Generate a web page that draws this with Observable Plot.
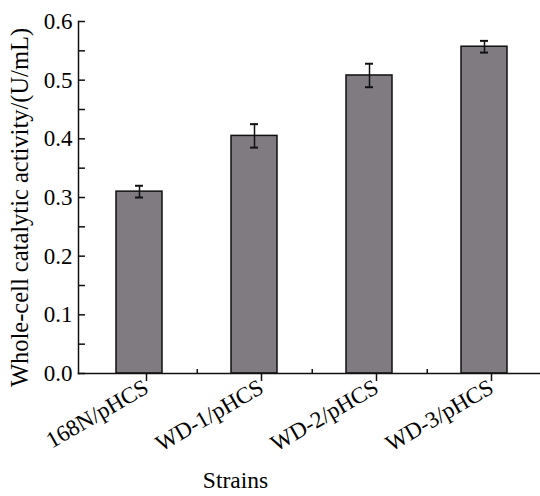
<!DOCTYPE html>
<html><head><meta charset="utf-8">
<script src="https://cdn.jsdelivr.net/npm/d3@7"></script>
<script src="https://cdn.jsdelivr.net/npm/@observablehq/plot@0.6"></script>
<style>body{margin:0;background:#fff} svg{font-family:"Liberation Serif","Times New Roman",serif}</style>
</head><body><div id="chart"></div>
<script>
const strains = ["168N/pHCS", "WD-1/pHCS", "WD-2/pHCS", "WD-3/pHCS"];
const activity = [0.31, 0.405, 0.508, 0.557];
const errors = [0.01, 0.02, 0.02, 0.01];
const yTicks = [0, 0.1, 0.2, 0.3, 0.4, 0.5, 0.6];
const yMinorTicks = [0.05, 0.15, 0.25, 0.35, 0.45, 0.55];
const yTitle = "Whole-cell catalytic activity/(U/mL)";
const xTitle = "Strains";

const data = strains.map((s, i) => ({strain: s, value: activity[i], lo: activity[i] - errors[i], hi: activity[i] + errors[i]}));
const font = '"Liberation Serif","Times New Roman",serif';

const chart = Plot.plot({
  width: 540, height: 496,
  marginLeft: 78, marginRight: 0, marginTop: 21, marginBottom: 123,
  style: {fontFamily: font, background: "#fff", color: "#000"},
  x: {domain: strains, range: [77, 545.6], paddingInner: 0.6, paddingOuter: 0.33},
  y: {domain: [0, 0.6]},
  marks: [
    Plot.barY(data, {x: "strain", y: "value", fill: "#7f7b81", stroke: "#111", strokeWidth: 1.5}),
    Plot.ruleX(data, {x: "strain", y1: "lo", y2: "hi", stroke: "#111", strokeWidth: 1.5}),
    Plot.tickY(data, {x: "strain", y: "lo", stroke: "#111", strokeWidth: 2, insetLeft: 19, insetRight: 19}),
    Plot.tickY(data, {x: "strain", y: "hi", stroke: "#111", strokeWidth: 2, insetLeft: 19, insetRight: 19}),
    Plot.frame({anchor: "left", stroke: "#111", strokeWidth: 1.5}),
    Plot.frame({anchor: "bottom", stroke: "#111", strokeWidth: 1.5}),
    Plot.axisY({ticks: yTicks, tickSize: -7, tickPadding: 13, tickFormat: d3.format(".1f"), fontSize: 23, label: null, stroke: "#111", strokeWidth: 1.5}),
    Plot.axisY({ticks: yMinorTicks, tickSize: -7, tickFormat: () => "", label: null, stroke: "#111", strokeWidth: 1.5}),
    Plot.text([yTitle], {frameAnchor: "left", textAnchor: "middle", rotate: -90, dx: -58, dy: 10, fontSize: 24.5, fill: "#000"}),
    Plot.axisX({tickSize: -8, tickPadding: 12, tickRotate: -30, fontSize: 23, label: null, dx: 7, dy: 8, stroke: "#111", strokeWidth: 1.5}),
    Plot.axisX({ticks: strains.slice(0, 3), tickSize: -4, tickFormat: () => "", label: null, dx: 57.75, stroke: "#111", strokeWidth: 1.5}),
    Plot.text([xTitle], {frameAnchor: "bottom", dx: -74, dy: 114, lineAnchor: "bottom", fontSize: 23.5, fill: "#000"})
  ]
});
document.getElementById("chart").append(chart);
</script></body></html>
